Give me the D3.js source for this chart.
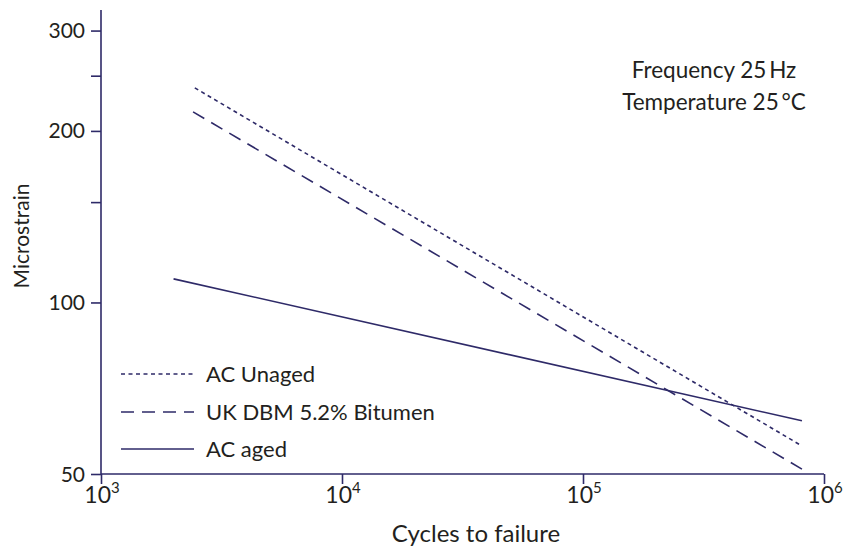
<!DOCTYPE html>
<html>
<head>
<meta charset="utf-8">
<script src="https://cdn.jsdelivr.net/npm/d3@7"></script>
<style>
  html, body { margin: 0; padding: 0; background: #fff; }
  svg text { font-family: Lato, "Open Sans", sans-serif; fill: #231f20; }
</style>
</head>
<body>
<svg id="chart" width="846" height="550"></svg>
<script>
// ---- data ----
const seriesNames = ["AC Unaged", "UK DBM 5.2% Bitumen", "AC aged"];
const cyclesUnaged = [2450, 810000];
const strainUnaged = [238, 56];
const cyclesDBM = [2410, 810000];
const strainDBM = [216, 51];
const cyclesAged = [2000, 810000];
const strainAged = [110, 62];
const xTickValues = [1e3, 1e4, 1e5, 1e6];
const xTickExponents = ["3", "4", "5", "6"];
const yTickValues = [50, 100, 150, 200, 250, 300];
const yTickLabels = ["50", "100", "", "200", "", "300"];
const noteLines = ["Frequency 25\u2009Hz", "Temperature 25\u2009\u00B0C"];

const ink = "#2e2a68";
const svg = d3.select("#chart");

const x = d3.scaleLog().domain([1e3, 1e6]).range([101, 824]);
const y = d3.scaleLog().domain([50, 326]).range([474, 10]);

// axes
const xAxis = d3.axisBottom(x).tickValues(xTickValues).tickSize(10).tickFormat("");
const gx = svg.append("g").attr("transform", "translate(0,474)").call(xAxis);
const yAxis = d3.axisLeft(y).tickValues(yTickValues).tickSize(10).tickFormat("");
const gy = svg.append("g").attr("transform", "translate(101,0)").call(yAxis);
[gx, gy].forEach(g => {
  g.selectAll("path.domain").attr("stroke", ink).attr("stroke-width", 1.6);
  g.selectAll(".tick line").attr("stroke", ink).attr("stroke-width", 1.6);
});
gx.select("path.domain").attr("d", "M101,0H824");
gy.select("path.domain").attr("d", "M0,10V474");

// x tick labels 10^n
xTickValues.forEach((v, i) => {
  const t = svg.append("text")
    .attr("x", x(v) + 1).attr("y", 503)
    .attr("text-anchor", "middle")
    .style("font-size", "23px");
  t.append("tspan").text("10");
  t.append("tspan").attr("dy", -10).style("font-size", "15px").text(xTickExponents[i]);
});

// y tick labels
yTickValues.forEach((v, i) => {
  if (!yTickLabels[i]) return;
  svg.append("text")
    .attr("x", 85).attr("y", y(v)).attr("dy", "0.36em")
    .attr("text-anchor", "end")
    .style("font-size", "21px")
    .text(yTickLabels[i]);
});

// axis titles
svg.append("text")
  .attr("x", 476).attr("y", 542)
  .attr("text-anchor", "middle").style("font-size", "24px")
  .text("Cycles to failure");
svg.append("text")
  .attr("transform", "translate(29,236) rotate(-90)")
  .attr("text-anchor", "middle").style("font-size", "21px")
  .text("Microstrain");

// lines
const line = d3.line().x(d => x(d[0])).y(d => y(d[1]));
const series = [
  { pts: d3.zip(cyclesUnaged, strainUnaged), dash: "4,3.5" },
  { pts: d3.zip(cyclesDBM, strainDBM), dash: "13,8" },
  { pts: d3.zip(cyclesAged, strainAged), dash: null }
];
series.forEach(s => {
  svg.append("path")
    .attr("d", line(s.pts))
    .attr("fill", "none")
    .attr("stroke", ink)
    .attr("stroke-width", 1.6)
    .attr("stroke-dasharray", s.dash);
});

// legend
const legendY = [374, 412, 449];
series.forEach((s, i) => {
  svg.append("line")
    .attr("x1", 121).attr("x2", 194)
    .attr("y1", legendY[i]).attr("y2", legendY[i])
    .attr("stroke", ink).attr("stroke-width", 1.6)
    .attr("stroke-dasharray", s.dash);
  svg.append("text")
    .attr("x", 206).attr("y", legendY[i]).attr("dy", "0.36em")
    .style("font-size", "22px")
    .text(seriesNames[i]);
});

// note
noteLines.forEach((t, i) => {
  svg.append("text")
    .attr("x", 714).attr("y", 78 + i * 32)
    .attr("text-anchor", "middle")
    .style("font-size", "22.5px")
    .text(t);
});
</script>
</body>
</html>
